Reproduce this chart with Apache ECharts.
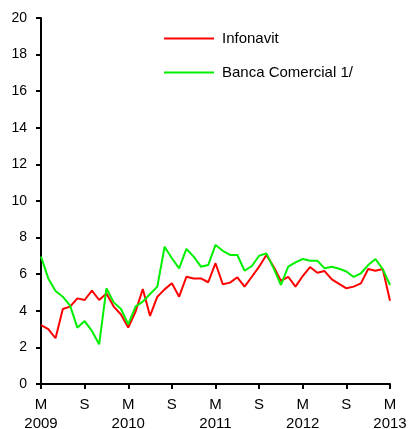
<!DOCTYPE html>
<html>
<head>
<meta charset="utf-8">
<script src="https://cdn.jsdelivr.net/npm/echarts@6/dist/echarts.min.js"></script>
<style>html,body{margin:0;padding:0;background:#fff}#c{width:411px;height:429px}</style>
</head>
<body>
<div id="c"></div>
<script>
// Monthly categories, March 2009 – March 2013 (Spanish month initials)
const monthInitials = ['E','F','M','A','M','J','J','A','S','O','N','D'];
const startYear = 2009, startMonth = 2, nMonths = 49;
const categories = [];
for (let i = 0; i < nMonths; i++) {
  const m = (startMonth + i) % 12;
  const y = startYear + Math.floor((startMonth + i) / 12);
  categories.push(m === 2 ? monthInitials[m] + '\n' + y : monthInitials[m]);
}
const seriesNames = ['Infonavit', 'Banca Comercial 1/'];
const infonavit = [3.22,3.0,2.5,4.1,4.23,4.68,4.59,5.1,4.59,4.95,4.23,3.8,
  3.08,3.95,5.19,3.72,4.77,5.17,5.5,4.77,5.86,5.77,5.77,5.56,
  6.6,5.45,5.54,5.83,5.32,5.86,6.41,7.05,6.41,5.63,5.86,5.32,
  5.9,6.39,6.08,6.17,5.72,5.47,5.23,5.32,5.5,6.28,6.19,6.28,4.55];
const bancaComercial = [6.96,5.77,5.08,4.77,4.28,3.08,3.44,2.9,2.17,5.23,4.46,4.1,
  3.26,4.23,4.5,4.92,5.32,7.5,6.87,6.32,7.38,6.96,6.41,6.5,
  7.6,7.28,7.05,7.05,6.19,6.45,7.01,7.14,6.32,5.41,6.41,6.65,
  6.83,6.74,6.74,6.32,6.41,6.3,6.15,5.85,6.05,6.5,6.83,6.28,5.41];
const yMin = 0, yMax = 20, yInterval = 2;

const font = '"Liberation Sans", Arial, sans-serif';
const chart = echarts.init(document.getElementById('c'), null, {renderer: 'canvas'});
chart.setOption({
  animation: false,
  backgroundColor: '#fff',
  grid: {left: 41, right: 21, top: 18, bottom: 45, containLabel: false, outerBoundsMode: 'none'},
  legend: {
    orient: 'vertical', left: 164, top: 31, padding: 0,
    itemWidth: 50, itemHeight: 2, itemGap: 19,
    icon: 'rect',
    textStyle: {fontFamily: font, fontSize: 15, color: '#000', padding: [0,0,0,3]},
    data: seriesNames
  },
  xAxis: {
    type: 'category', data: categories, boundaryGap: false,
    axisLine: {lineStyle: {color: '#000', width: 2}},
    axisTick: {interval: 5, length: 5, lineStyle: {color: '#000', width: 2}},
    axisLabel: {interval: 5, margin: 11, color: '#000', fontFamily: font, fontSize: 15, lineHeight: 19},
    splitLine: {show: false}
  },
  yAxis: {
    type: 'value', min: yMin, max: yMax, interval: yInterval,
    axisLine: {show: true, lineStyle: {color: '#000', width: 2}},
    axisTick: {show: true, length: 5, lineStyle: {color: '#000', width: 2}},
    axisLabel: {margin: 14, color: '#000', fontFamily: font, fontSize: 14},
    splitLine: {show: false}
  },
  series: [
    {name: seriesNames[0], type: 'line', data: infonavit, showSymbol: false, symbol: 'none',
     lineStyle: {color: '#ff0000', width: 2}, itemStyle: {color: '#ff0000'}},
    {name: seriesNames[1], type: 'line', data: bancaComercial, showSymbol: false, symbol: 'none',
     lineStyle: {color: '#00f000', width: 2}, itemStyle: {color: '#00f000'}}
  ]
});
</script>
</body>
</html>
